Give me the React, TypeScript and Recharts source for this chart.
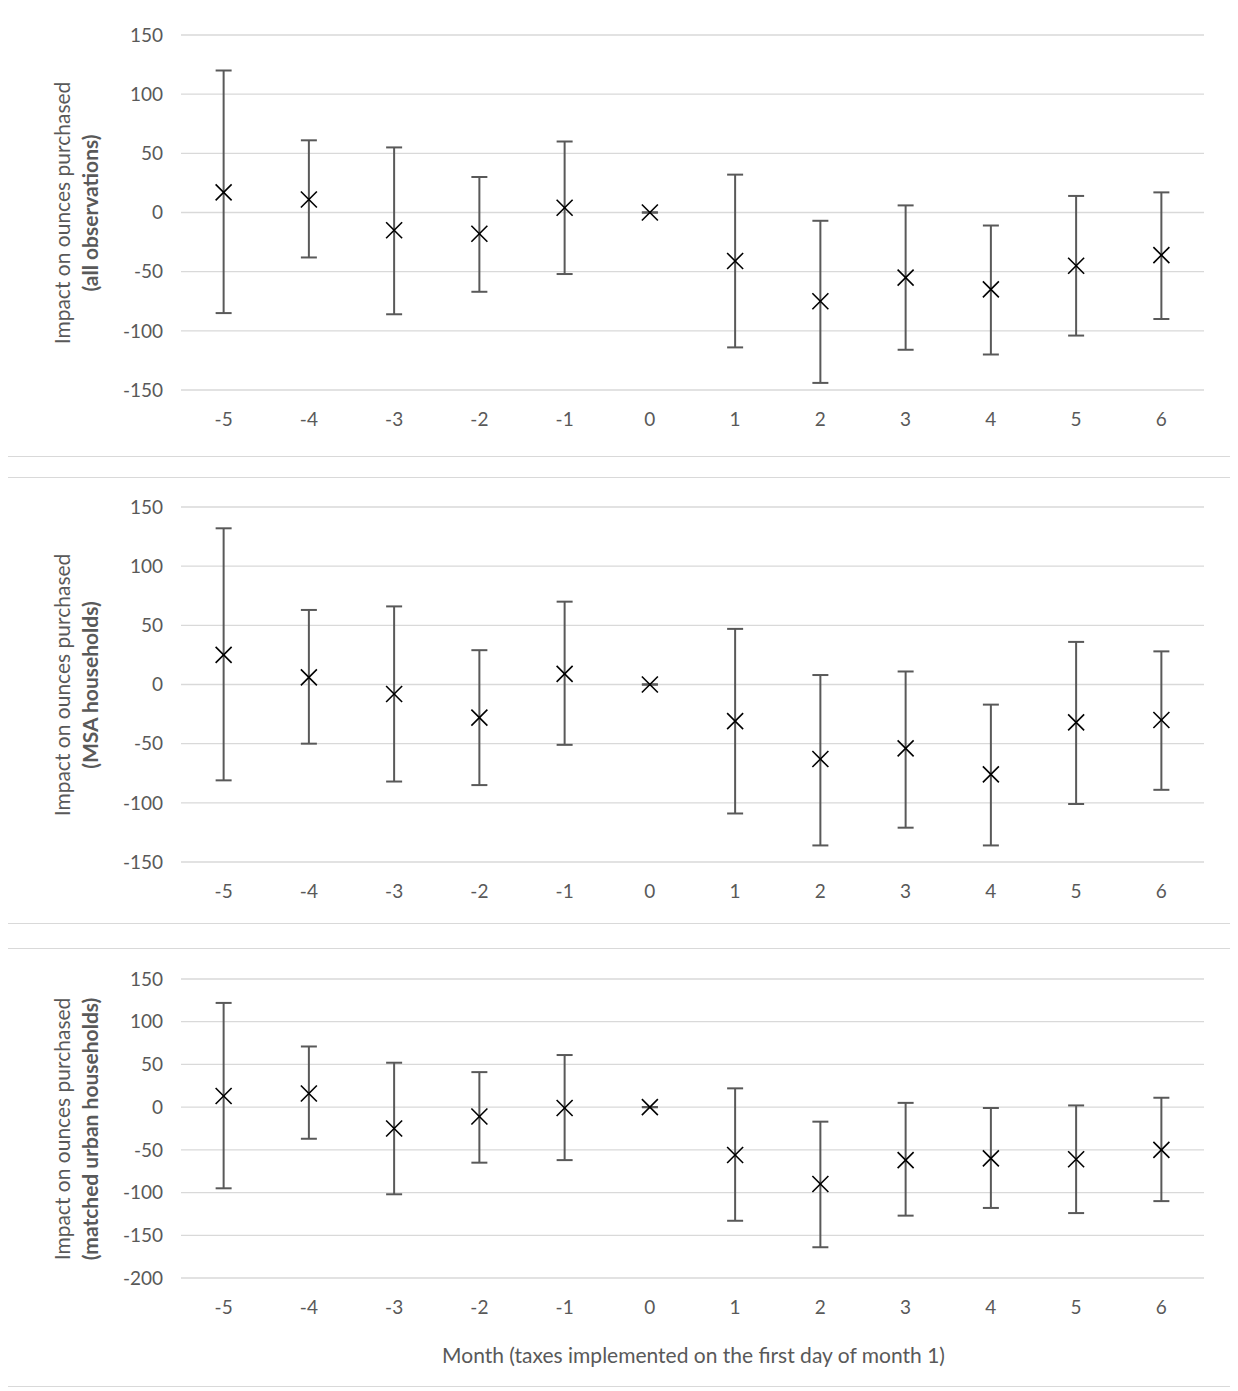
import React from "react";
import { LineChart, Line, XAxis, YAxis, CartesianGrid, ErrorBar } from "recharts";

const months = [-5, -4, -3, -2, -1, 0, 1, 2, 3, 4, 5, 6];

const allCenter = [17, 11, -15, -18, 4, 0, -41, -75, -55, -65, -45, -36];
const allLow = [-85, -38, -86, -67, -52, 0, -114, -144, -116, -120, -104, -90];
const allHigh = [120, 61, 55, 30, 60, 0, 32, -7, 6, -11, 14, 17];

const msaCenter = [25, 6, -8, -28, 9, 0, -31, -63, -54, -76, -32, -30];
const msaLow = [-81, -50, -82, -85, -51, 0, -109, -136, -121, -136, -101, -89];
const msaHigh = [132, 63, 66, 29, 70, 0, 47, 8, 11, -17, 36, 28];

const urbCenter = [13, 16, -25, -11, -1, 0, -56, -90, -62, -60, -61, -50];
const urbLow = [-95, -37, -102, -65, -62, 0, -133, -164, -127, -118, -124, -110];
const urbHigh = [122, 71, 52, 41, 61, 0, 22, -17, 5, -1, 2, 11];

const ticksA = [-150, -100, -50, 0, 50, 100, 150];
const ticksB = [-200, -150, -100, -50, 0, 50, 100, 150];

const FONT = "Lato, 'Open Sans', sans-serif";
const GREY = "#595959";

function build(c: number[], lo: number[], hi: number[]) {
  return months.map((m, i) => ({
    m: String(m),
    v: c[i],
    err: [c[i] - lo[i], hi[i] - c[i]],
  }));
}

const XMark = (props: any) => {
  const { cx, cy } = props;
  if (cx == null || cy == null) return null;
  const s = 8;
  return (
    <g>
      <line x1={cx - s} y1={cy - s} x2={cx + s} y2={cy + s} stroke="#000" strokeWidth={1.6} />
      <line x1={cx - s} y1={cy + s} x2={cx + s} y2={cy - s} stroke="#000" strokeWidth={1.6} />
    </g>
  );
};

function Panel(props: {
  data: any[];
  height: number;
  top: number;
  bottom: number;
  domain: [number, number];
  ticks: number[];
  bold: string;
  marginTop: number;
  xTitle?: boolean;
  plotH: number;
}) {
  const { data, height, top, bottom, domain, ticks, bold, marginTop, xTitle, plotH } = props;
  const centerY = top + plotH / 2;
  return (
    <div
      style={{
        position: "relative",
        width: 1225,
        height,
        border: "1px solid #d9d9d9",
        marginTop,
        fontFamily: FONT,
      }}
    >
      <LineChart
        width={1225}
        height={height}
        data={data}
        margin={{ top, right: 27, bottom, left: 0 }}
      >
        <CartesianGrid vertical={false} stroke="#d9d9d9" strokeWidth={1.3} />
        <XAxis
          dataKey="m"
          scale="band"
          axisLine={false}
          tickLine={false}
          tickMargin={17}
          tick={{ fill: GREY, fontSize: 19, fontFamily: FONT }}
          interval={0}
        />
        <YAxis
          type="number"
          domain={domain}
          ticks={ticks}
          width={175}
          axisLine={false}
          tickLine={false}
          tickMargin={12}
          tick={{ fill: GREY, fontSize: 19, fontFamily: FONT }}
        />
        <Line
          dataKey="v"
          stroke="none"
          isAnimationActive={false}
          dot={<XMark />}
          activeDot={false}
        >
          <ErrorBar dataKey="err" direction="y" width={8} stroke={GREY} strokeWidth={2} />
        </Line>
      </LineChart>
      <div
        style={{
          position: "absolute",
          left: 70,
          top: centerY,
          transform: "translate(-50%, -50%) rotate(-90deg)",
          whiteSpace: "nowrap",
          textAlign: "center",
          color: GREY,
          fontSize: 21,
          lineHeight: "28px",
        }}
      >
        <div>Impact on ounces purchased</div>
        <div style={{ fontWeight: "bold" }}>{bold}</div>
      </div>
      {xTitle && (
        <div
          style={{
            position: "absolute",
            left: 175,
            width: 1025,
            top: 393,
            textAlign: "center",
            color: GREY,
            fontSize: 21,
          }}
        >
          Month (taxes implemented on the first day of month 1)
        </div>
      )}
    </div>
  );
}

export default function App() {
  return (
    <div style={{ marginLeft: -3, marginTop: -3 }}>
      <Panel
        data={build(allCenter, allLow, allHigh)}
        height={450}
        top={29}
        bottom={36}
        plotH={355}
        domain={[-150, 150]}
        ticks={ticksA}
        bold="(all observations)"
        marginTop={0}
      />
      <Panel
        data={build(msaCenter, msaLow, msaHigh)}
        height={445}
        top={29}
        bottom={31}
        plotH={355}
        domain={[-150, 150]}
        ticks={ticksA}
        bold="(MSA households)"
        marginTop={20}
      />
      <Panel
        data={build(urbCenter, urbLow, urbHigh)}
        height={437}
        top={30}
        bottom={78}
        plotH={299}
        domain={[-200, 150]}
        ticks={ticksB}
        bold="(matched urban households)"
        marginTop={24}
        xTitle
      />
    </div>
  );
}
